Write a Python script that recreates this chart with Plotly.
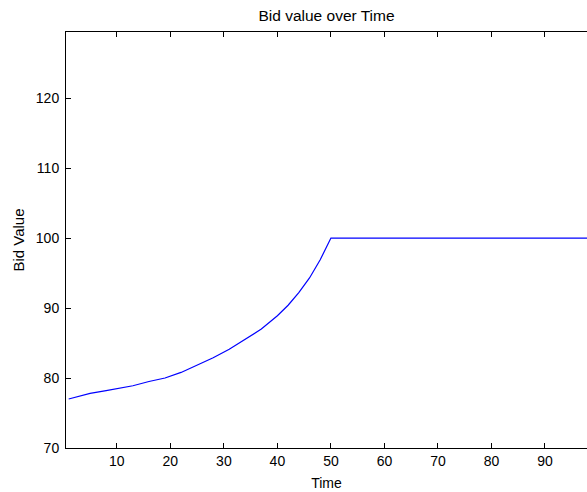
import plotly.graph_objects as go

time = [1, 3, 5, 8, 10, 13, 16, 19, 22, 25, 28, 31, 34, 37, 40, 42, 44, 46, 48, 50, 100]
bid_value = [77.0, 77.4, 77.8, 78.2, 78.5, 78.9, 79.5, 80.0, 80.8, 81.8, 82.9, 84.1,
             85.5, 87.0, 88.9, 90.4, 92.2, 94.3, 96.9, 100.0, 100.0]
x_ticks = [10, 20, 30, 40, 50, 60, 70, 80, 90]
y_ticks = [70, 80, 90, 100, 110, 120]

fam = "Liberation Sans, Arial, Helvetica, sans-serif"
font = dict(family=fam, size=14, color="#000000")

fig = go.Figure()
fig.add_trace(go.Scatter(x=time, y=bid_value, mode="lines",
                         line=dict(color="#0000ff", width=1.2), showlegend=False))

fig.update_layout(
    width=587, height=492,
    margin=dict(l=66, r=0, t=32, b=44),
    paper_bgcolor="white", plot_bgcolor="white",
    font=font,
    title=dict(text="Bid value over Time", x=(66 + 587) / 2 / 587, xanchor="center",
               y=1 - 16 / 492, yanchor="middle", yref="container",
               font=dict(family=fam, size=15.5, color="#000000")),
    xaxis=dict(range=[0.5, 97.85], tickvals=x_ticks, ticks="inside", ticklen=5,
               tickcolor="black", linecolor="black", linewidth=1, showline=True,
               mirror="ticks", showgrid=False, zeroline=False,
               title=dict(text="Time", standoff=10, font=font), tickfont=font),
    yaxis=dict(range=[70, 129.45], tickvals=y_ticks, ticks="inside", ticklen=5,
               tickcolor="black", linecolor="black", linewidth=1, showline=True,
               mirror=False, showgrid=False, zeroline=False, ticklabelstandoff=3,
               title=dict(text="Bid Value", standoff=7,
                          font=dict(family=fam, size=15, color="#000000")),
               tickfont=font),
)

fig.write_html("out.html")
